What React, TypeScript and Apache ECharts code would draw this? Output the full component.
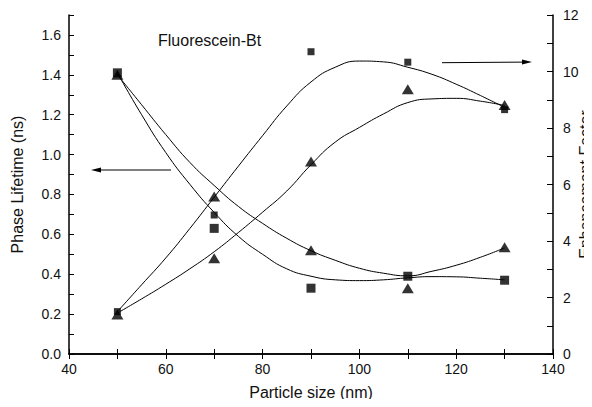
import React, { useEffect, useRef } from "react";
import * as echarts from "echarts";

// Measured particle sizes (nm)
const sizes = [50, 70, 90, 110, 130];
// Phase lifetime (ns), left axis
const lifeSquares = [1.41, 0.63, 0.33, 0.39, 0.37];
const lifeTriangles = [1.4, 0.79, 0.52, 0.33, 0.535];
// Enhancement factor, right axis
const enhSquares = [1.5, 4.92, 10.7, 10.33, 8.65];
const enhTriangles = [1.4, 3.39, 6.81, 9.37, 8.81];

// Fitted curves
const fitX = [50, 55, 60, 65, 70, 75, 80, 85, 90, 95, 100, 105, 110, 115, 120, 125, 130];
const lifeSquaresFit = [1.41, 1.2, 1.01, 0.85, 0.71, 0.59, 0.5, 0.427, 0.39, 0.372, 0.368, 0.372, 0.382, 0.388, 0.387, 0.38, 0.372];
const lifeTrianglesFit = [1.4, 1.25, 1.1, 0.96, 0.845, 0.74, 0.655, 0.58, 0.518, 0.47, 0.43, 0.405, 0.392, 0.415, 0.445, 0.485, 0.532];
const enhSquaresFit = [1.5, 2.45, 3.4, 4.45, 5.55, 6.65, 7.73, 8.78, 9.63, 10.15, 10.37, 10.34, 10.15, 9.9, 9.55, 9.15, 8.73];
const enhTrianglesFit = [1.45, 1.95, 2.47, 3.02, 3.62, 4.3, 5.02, 5.77, 6.7, 7.5, 8.02, 8.5, 8.9, 9.03, 9.05, 8.95, 8.8];

const FONT = "Liberation Sans";

const zip = (xs: number[], ys: number[]) => xs.map((x, i) => [x, ys[i]]);

export default function App() {
  const ref = useRef<HTMLDivElement>(null);
  useEffect(() => {
    if (!ref.current) return;
    const chart = echarts.init(ref.current, undefined, { renderer: "svg" });
    const axisLine = { show: true, lineStyle: { color: "#000", width: 1.5 } };
    const fitLine = (name: string, xs: number[], ys: number[], yAxisIndex: number) => ({
      name,
      type: "line",
      yAxisIndex,
      data: zip(xs, ys),
      smooth: true,
      showSymbol: false,
      symbol: "none",
      lineStyle: { color: "#000", width: 1 },
      z: 2,
    });
    const markers = (name: string, ys: number[], symbol: string, size: any, yAxisIndex: number) => ({
      name,
      type: "scatter",
      yAxisIndex,
      data: zip(sizes, ys),
      symbol,
      symbolSize: size,
      itemStyle: { color: "#000" },
      z: 5,
    });
    chart.setOption({
      animation: false,
      backgroundColor: "#fff",
      textStyle: { fontFamily: FONT },
      grid: { left: 69, right: 39, top: 15, bottom: 53, containLabel: false, outerBoundsMode: "none" },
      xAxis: [
        {
          type: "value",
          min: 40,
          max: 140,
          interval: 10,
          position: "bottom",
          name: "Particle size (nm)",
          nameLocation: "middle",
          nameGap: 30,
          nameMoveOverlap: false,
          nameTextStyle: { fontSize: 16, color: "#111", fontFamily: FONT },
          axisLine,
          axisTick: { inside: true, length: 5, lineStyle: { color: "#000", width: 1 } },
          axisLabel: {
            margin: 8,
            fontSize: 14,
            color: "#111",
            fontFamily: FONT,
            formatter: (v: number) => (Math.round(v) % 20 === 0 ? String(v) : ""),
          },
          splitLine: { show: false },
        },
        {
          type: "value",
          min: 40,
          max: 140,
          interval: 10,
          position: "top",
          axisLine,
          axisTick: { inside: true, length: 5, lineStyle: { color: "#000", width: 1 } },
          axisLabel: { show: false },
          splitLine: { show: false },
        },
      ],
      yAxis: [
        {
          type: "value",
          min: 0,
          max: 1.7,
          interval: 0.1,
          position: "left",
          name: "Phase Lifetime (ns)",
          nameLocation: "middle",
          nameGap: 44,
          nameMoveOverlap: false,
          nameTextStyle: { fontSize: 16, color: "#111", fontFamily: FONT },
          axisLine,
          axisTick: { inside: true, length: 5, lineStyle: { color: "#000", width: 1 } },
          axisLabel: {
            margin: 8,
            fontSize: 14,
            color: "#111",
            fontFamily: FONT,
            formatter: (v: number) => (Math.round(v * 10) % 2 === 0 ? v.toFixed(1) : ""),
          },
          splitLine: { show: false },
        },
        {
          type: "value",
          min: 0,
          max: 12,
          interval: 1,
          position: "right",
          name: "Enhancement Factor",
          nameLocation: "middle",
          nameGap: 24,
          nameMoveOverlap: false,
          nameTextStyle: { fontSize: 16, color: "#111", fontFamily: FONT },
          axisLine,
          axisTick: { inside: true, length: 6, lineStyle: { color: "#000", width: 1 } },
          axisLabel: {
            margin: 10,
            fontSize: 14,
            color: "#111",
            fontFamily: FONT,
            formatter: (v: number) => (Math.round(v) % 2 === 0 ? String(v) : ""),
          },
          splitLine: { show: false },
        },
      ],
      graphic: [
        {
          type: "text",
          left: 158,
          top: 32,
          style: { text: "Fluorescein-Bt", fontSize: 16, fontFamily: FONT, fill: "#111" },
        },
        {
          type: "line",
          shape: { x1: 171, y1: 170, x2: 98, y2: 170 },
          style: { stroke: "#000", lineWidth: 1 },
        },
        {
          type: "polygon",
          shape: { points: [[91, 170], [101, 167.5], [101, 172.5]] },
          style: { fill: "#000" },
        },
        {
          type: "line",
          shape: { x1: 442, y1: 62.7, x2: 524, y2: 62.1 },
          style: { stroke: "#000", lineWidth: 1 },
        },
        {
          type: "polygon",
          shape: { points: [[532, 62], [522, 59.5], [522, 64.5]] },
          style: { fill: "#000" },
        },
      ],
      series: [
        fitLine("lifeSquaresFit", fitX, lifeSquaresFit, 0),
        fitLine("lifeTrianglesFit", fitX, lifeTrianglesFit, 0),
        fitLine("enhSquaresFit", fitX, enhSquaresFit, 1),
        fitLine("enhTrianglesFit", fitX, enhTrianglesFit, 1),
        markers("lifeSquares", lifeSquares, "rect", 9, 0),
        markers("lifeTriangles", lifeTriangles, "triangle", [12, 10], 0),
        markers("enhSquares", enhSquares, "rect", 7, 1),
        markers("enhTriangles", enhTriangles, "triangle", [12, 10], 1),
      ],
    });
    return () => chart.dispose();
  }, []);
  return <div ref={ref} style={{ width: 592, height: 407, margin: -8 }} />;
}
